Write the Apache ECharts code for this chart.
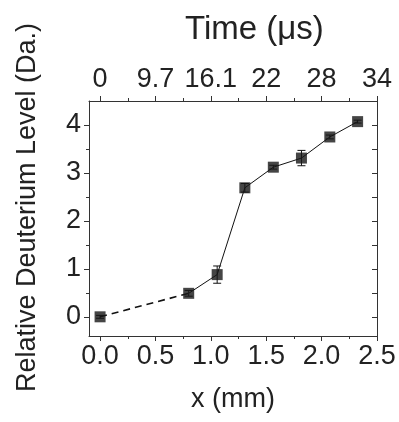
<!DOCTYPE html>
<html>
<head>
<meta charset="utf-8">
<script src="https://cdn.jsdelivr.net/npm/echarts@6/dist/echarts.min.js"></script>
<style>html,body{margin:0;padding:0;background:#fff;}#c{width:399px;height:422px;}</style>
</head>
<body>
<div id="c"></div>
<script>
// Data
const xVals = [0, 0.80, 1.057, 1.307, 1.564, 1.818, 2.074, 2.325];
const yVals = [0, 0.49, 0.88, 2.69, 3.12, 3.31, 3.75, 4.07];
const yErr  = [0.03, 0.06, 0.18, 0.09, 0.04, 0.16, 0.04, 0.03];
const xTicks = [0, 0.5, 1.0, 1.5, 2.0, 2.5];
const xMinorTicks = [0.25, 0.75, 1.25, 1.75, 2.25];
const timeLabels = ["0", "9.7", "16.1", "22", "28", "34"];
const yTicks = [0, 1, 2, 3, 4];
const yMinorTicks = [0.5, 1.5, 2.5, 3.5];

const FONT = 'Liberation Sans';
const TXT = '#222';
const LINE = '#333';

const dashedPts = [[xVals[0], yVals[0]], [xVals[1], yVals[1]]];
const solidPts = xVals.slice(1).map((x, i) => [x, yVals[i + 1]]);
const allPts = xVals.map((x, i) => [x, yVals[i]]);
const errData = xVals.map((x, i) => [x, yVals[i] - yErr[i], yVals[i] + yErr[i]]);

const xBase = {type: 'value', min: -0.1, max: 2.5, splitLine: {show: false}};
const yBase = {type: 'value', min: -0.4, max: 4.5, splitLine: {show: false}};
const lineOn = {show: true, onZero: false, lineStyle: {color: LINE, width: 1}};
const lineOff = {show: false, onZero: false};

const chart = echarts.init(document.getElementById('c'), null, {renderer: 'canvas'});
chart.setOption({
  animation: false,
  backgroundColor: '#fff',
  title: {
    text: 'Time (μs)', left: 180, top: 8,
    textStyle: {fontFamily: FONT, fontSize: 33, fontWeight: 'normal', color: TXT}
  },
  grid: {left: 89, top: 101, width: 288, height: 235, show: false},
  xAxis: [
    Object.assign({}, xBase, {
      position: 'bottom',
      axisLine: lineOn,
      axisTick: {show: true, inside: false, length: 5, customValues: xTicks, lineStyle: {color: LINE}},
      axisLabel: {show: true, customValues: xTicks, margin: 7, fontFamily: FONT, fontSize: 27, color: TXT,
                  formatter: v => v.toFixed(1)},
      name: 'x (mm)', nameLocation: 'middle', nameGap: 50,
      nameTextStyle: {fontFamily: FONT, fontSize: 27, color: TXT}
    }),
    Object.assign({}, xBase, {
      position: 'bottom',
      axisLine: lineOff,
      axisTick: {show: true, inside: false, length: 3, customValues: xMinorTicks, lineStyle: {color: LINE}},
      axisLabel: {show: false}
    }),
    Object.assign({}, xBase, {
      position: 'top',
      axisLine: lineOn,
      axisTick: {show: true, inside: false, length: 5, customValues: xTicks, lineStyle: {color: LINE}},
      axisLabel: {show: true, customValues: xTicks, margin: 8, fontFamily: FONT, fontSize: 27, color: TXT,
                  formatter: v => {
                    const i = xTicks.findIndex(t => Math.abs(t - v) < 1e-6);
                    return i >= 0 ? timeLabels[i] : '';
                  }}
    }),
    Object.assign({}, xBase, {
      position: 'top',
      axisLine: lineOff,
      axisTick: {show: true, inside: false, length: 3, customValues: xMinorTicks, lineStyle: {color: LINE}},
      axisLabel: {show: false}
    })
  ],
  yAxis: [
    Object.assign({}, yBase, {
      position: 'left',
      axisLine: lineOn,
      axisTick: {show: true, inside: false, length: 5, customValues: yTicks, lineStyle: {color: LINE}},
      axisLabel: {show: true, customValues: yTicks, margin: 8, fontFamily: FONT, fontSize: 27, color: TXT},
      name: 'Relative Deuterium Level (Da.)', nameLocation: 'middle', nameGap: 48, nameRotate: 90,
      nameTextStyle: {fontFamily: FONT, fontSize: 27, color: TXT, padding: [0, 0, 0, 22]}
    }),
    Object.assign({}, yBase, {
      position: 'left',
      axisLine: lineOff,
      axisTick: {show: true, inside: false, length: 3, customValues: yMinorTicks, lineStyle: {color: LINE}},
      axisLabel: {show: false}
    }),
    Object.assign({}, yBase, {
      position: 'right',
      axisLine: lineOn,
      axisTick: {show: true, inside: true, length: 5, customValues: yTicks.concat(yMinorTicks), lineStyle: {color: LINE}},
      axisLabel: {show: false}
    })
  ],
  series: [
    {
      type: 'line', xAxisIndex: 0, yAxisIndex: 0, data: dashedPts, symbol: 'none',
      lineStyle: {color: '#111', width: 1.6, type: [7, 5]}, z: 2
    },
    {
      type: 'line', xAxisIndex: 0, yAxisIndex: 0, data: solidPts, symbol: 'none',
      lineStyle: {color: '#111', width: 1}, z: 2
    },
    {
      type: 'custom', xAxisIndex: 0, yAxisIndex: 0, data: errData, z: 3,
      renderItem: function (params, api) {
        const x = api.value(0);
        const lo = api.coord([x, api.value(1)]);
        const hi = api.coord([x, api.value(2)]);
        const w = 4;
        const st = {stroke: '#111', lineWidth: 1};
        return {type: 'group', children: [
          {type: 'line', shape: {x1: lo[0], y1: lo[1], x2: hi[0], y2: hi[1]}, style: st},
          {type: 'line', shape: {x1: lo[0] - w, y1: lo[1], x2: lo[0] + w, y2: lo[1]}, style: st},
          {type: 'line', shape: {x1: hi[0] - w, y1: hi[1], x2: hi[0] + w, y2: hi[1]}, style: st}
        ]};
      }
    },
    {
      type: 'scatter', xAxisIndex: 0, yAxisIndex: 0, data: allPts, symbol: 'rect', symbolSize: 11,
      itemStyle: {color: '#161616'}, z: 4
    }
  ]
});
</script>
</body>
</html>
